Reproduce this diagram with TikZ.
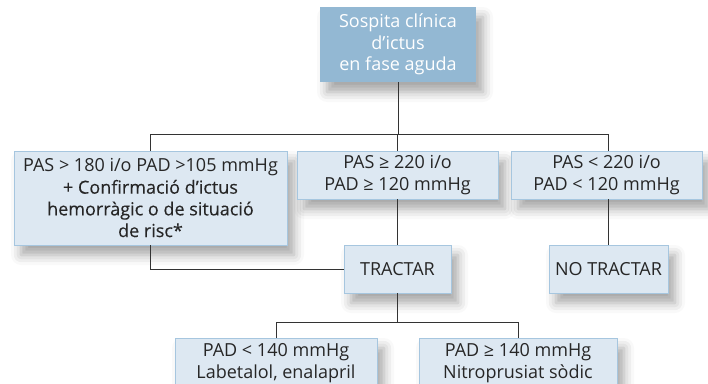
\documentclass[tikz,border=0pt]{standalone}
\usepackage{fontspec}
\setmainfont{Open Sans}
\usetikzlibrary{shadows.blur}
\definecolor{topfill}{HTML}{93B8D3}
\definecolor{boxfill}{HTML}{DDE8F2}
\definecolor{boxline}{HTML}{A6C6DF}
\definecolor{linec}{HTML}{333333}
\newcommand{\heavier}{\addfontfeature{FakeBold=0.2}}
\begin{document}
\begin{tikzpicture}[x=1pt,y=-1pt,
  base/.style={rectangle, align=center, font=\fontsize{18}{21.7}\selectfont, inner sep=0pt,
    blur shadow={shadow xshift=7pt, shadow yshift=-10pt, shadow blur radius=10pt, shadow opacity=35}},
  topbox/.style={base, fill=topfill, text=white},
  box/.style={base, fill=boxfill, draw=boxline, line width=0.8pt, text=black!85},
  conn/.style={draw=linec, line width=0.8pt}]
\useasboundingbox (0,0) rectangle (708,383);
\clip (0,0) rectangle (708,383);
\node[topbox, minimum width=156pt, minimum height=75pt] (top) at (398,44.5)
  {Sospita clínica\\d’ictus\\en fase aguda};
\node[box, minimum width=273pt, minimum height=94pt] (left) at (150.5,198)
  {PAS > 180 i/o PAD >105 mmHg\\{\heavier + Confirmació d’ictus}\\{\heavier hemorràgic o de situació}\\{\heavier de risc*}};
\node[box, minimum width=201pt, minimum height=48pt] (mid) at (397.5,175)
  {PAS ≥ 220 i/o\\PAD ≥ 120 mmHg};
\node[box, minimum width=191pt, minimum height=48pt] (right) at (606.5,175)
  {PAS < 220 i/o\\PAD < 120 mmHg};
\node[box, minimum width=107pt, minimum height=48pt] (tr) at (397.5,269) {TRACTAR};
\node[box, minimum width=119pt, minimum height=48pt] (ntr) at (608.5,269) {NO TRACTAR};
\node[box, minimum width=202pt, minimum height=50pt] (bl) at (276,363)
  {PAD < 140 mmHg\\Labetalol, enalapril};
\node[box, minimum width=198pt, minimum height=50pt] (br) at (518,363)
  {PAD ≥ 140 mmHg\\Nitroprusiat sòdic};
\coordinate (h1) at (398,134);
\coordinate (h2) at (397.5,322);
\draw[conn] (top.south) -- (h1);
\draw[conn] (left.north) -- (left.north |- h1) -- (ntr.north |- h1) -- (ntr.north |- right.north);
\draw[conn] (mid.north) -- (mid.north |- h1);
\draw[conn] (mid.south) -- (tr.north);
\draw[conn] (ntr.north |- right.south) -- (ntr.north);
\draw[conn] (left.south) -- (left.south |- tr.west) -- (tr.west);
\draw[conn] (tr.south) -- (h2);
\draw[conn] (bl.north) -- (bl.north |- h2) -- (br.north |- h2) -- (br.north);
\end{tikzpicture}
\end{document}
